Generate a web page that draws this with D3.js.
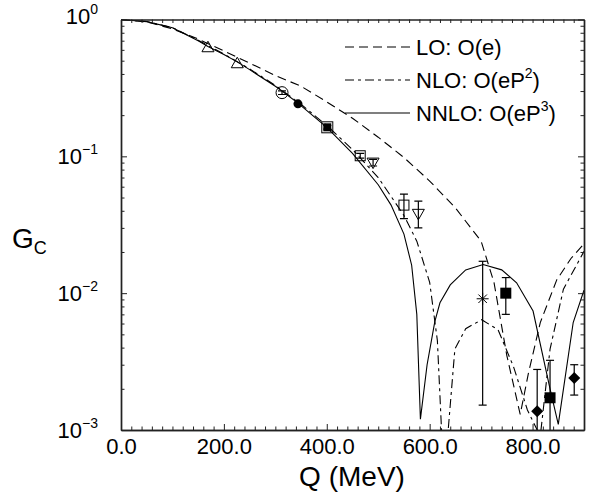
<!DOCTYPE html>
<html><head><meta charset="utf-8">
<script src="https://cdn.jsdelivr.net/npm/d3@7"></script>
<style>
body{margin:0;background:#fff}
svg{display:block}
text{font-family:"Liberation Sans",Arial,Helvetica,sans-serif;fill:#000}
</style>
</head><body>
<svg id="chart" width="596" height="497"></svg>
<script>
// ---- data ----
const loQ = [0,50,100,150,200,250,300,350,400,450,500,550,600,650,700,725,750,776,792,815,847,875,900];
const loG = [1,0.96,0.855,0.72,0.59,0.48,0.39,0.325,0.25,0.19,0.138,0.098,0.066,0.042,0.024,0.012,0.0035,0.0013,0.0026,0.0061,0.0125,0.018,0.023];

const nloQ = [0,50,100,150,200,250,300,350,400,450,500,550,575,600,615,625,636,649,670,701,733,763,790,815,834,860,900];
const nloG = [1,0.966,0.872,0.705,0.56,0.435,0.33,0.24,0.168,0.112,0.07,0.037,0.024,0.012,0.0045,0.0007,0.001,0.0039,0.0055,0.0064,0.0054,0.0029,0.0014,0.0009,0.0039,0.0107,0.0202];

const nnloQ = [0,50,100,150,169,200,226,250,300,313,344,400,450,500,525,550,565,575,582,595,610,620,640,670,704,740,769,801,834,850,879,900];
const nnloG = [1,0.965,0.87,0.70,0.635,0.555,0.49,0.43,0.325,0.30,0.245,0.163,0.105,0.062,0.044,0.027,0.016,0.007,0.0012,0.003,0.0062,0.0085,0.0115,0.0148,0.0162,0.0148,0.0119,0.0074,0.002,0.0011,0.0061,0.0105];

const ptQ   = [169,226,313,344,401,465,490,550,578,703,748,809,834,881];
const ptG   = [0.627,0.479,0.292,0.242,0.163,0.101,0.090,0.044,0.038,0.0091,0.0100,0.00137,0.00172,0.0024];
const ptLo  = [null,null,0.283,null,0.158,0.097,0.085,0.035,0.030,0.00152,0.0070,0.0005,0.0005,0.0018];
const ptHi  = [null,null,0.301,null,0.168,0.105,0.095,0.053,0.047,0.0171,0.0130,0.00277,0.00323,0.0030];
const ptSym = ["tri","tri","ocirc","fcirc","fsqbox","osq","dtri","osq","dtri","star","fsq","fdia","fsq","fdia"];

const xTicks = [0,200,400,600,800];
const yTicks = [1,0.1,0.01,0.001];
const yExp = ["0","\u22121","\u22122","\u22123"];
const legendLabels = [["LO: O(e)",""],["NLO: O(eP","2",")"],["NNLO: O(eP","3",")"]];

// ---- layout ----
const svg = d3.select("#chart");
const L = 121, R = 584, T = 19.5, B = 430;
const x = d3.scaleLinear().domain([0,900]).range([L,R]);
const y = d3.scaleLog().domain([1e-3,1]).range([B,T]);

svg.append("clipPath").attr("id","clip").append("rect")
  .attr("x",L).attr("y",T).attr("width",R-L).attr("height",B-T);

// curves
const mk = (Q,G) => Q.map((q,i)=>[q,G[i]]);
const line = d3.line().x(d=>x(d[0])).y(d=>y(d[1])).curve(d3.curveLinear);
const curves = [
  {d:mk(loQ,loG), dash:"9,5"},
  {d:mk(nloQ,nloG), dash:"9,4,3,4"},
  {d:mk(nnloQ,nnloG), dash:null}
];
const cg = svg.append("g").attr("clip-path","url(#clip)");
curves.forEach(c=>{
  cg.append("path").attr("d",line(c.d)).attr("fill","none")
    .attr("stroke","#000").attr("stroke-width",1.1)
    .attr("stroke-dasharray",c.dash);
});

// error bars
const eg = svg.append("g").attr("clip-path","url(#clip)");
ptQ.forEach((q,i)=>{
  if(ptLo[i]==null) return;
  const cx = x(q), y1 = y(ptLo[i]), y2 = y(ptHi[i]);
  eg.append("line").attr("x1",cx).attr("x2",cx).attr("y1",y1).attr("y2",y2).attr("stroke","#000").attr("stroke-width",1.2);
  [y1,y2].forEach(yy=>eg.append("line").attr("x1",cx-4).attr("x2",cx+4).attr("y1",yy).attr("y2",yy).attr("stroke","#000").attr("stroke-width",1.2));
});

// markers
const mg = svg.append("g");
ptQ.forEach((q,i)=>{
  const cx = x(q), cy = y(ptG[i]), s = ptSym[i];
  const g = mg.append("g").attr("transform",`translate(${cx},${cy})`);
  if(s==="tri") g.append("path").attr("d","M0,-6L6,4.5L-6,4.5Z").attr("fill","none").attr("stroke","#000").attr("stroke-width",1);
  if(s==="dtri") g.append("path").attr("d","M0,6L6,-4.5L-6,-4.5Z").attr("fill","none").attr("stroke","#000").attr("stroke-width",1);
  if(s==="ocirc") g.append("circle").attr("r",6).attr("fill","none").attr("stroke","#000").attr("stroke-width",1);
  if(s==="fcirc") g.append("circle").attr("r",4.5).attr("fill","#000");
  if(s==="fsqbox"){ g.append("rect").attr("x",-5.5).attr("y",-5.5).attr("width",11).attr("height",11).attr("fill","none").attr("stroke","#000").attr("stroke-width",1);
                    g.append("rect").attr("x",-4).attr("y",-4).attr("width",8).attr("height",8).attr("fill","#000"); }
  if(s==="osq") g.append("rect").attr("x",-5).attr("y",-5).attr("width",10).attr("height",10).attr("fill","none").attr("stroke","#000").attr("stroke-width",1);
  if(s==="fsq") g.append("rect").attr("x",-5.5).attr("y",-5.5).attr("width",11).attr("height",11).attr("fill","#000");
  if(s==="fdia") g.append("path").attr("d","M0,-6L6,0L0,6L-6,0Z").attr("fill","#000");
  if(s==="star"){ [0,45,90,135].forEach(a=>{const r=6,t=a*Math.PI/180;
      g.append("line").attr("x1",-r*Math.cos(t)).attr("y1",-r*Math.sin(t)).attr("x2",r*Math.cos(t)).attr("y2",r*Math.sin(t)).attr("stroke","#000").attr("stroke-width",1);}); }
});

// axes
const minorX = d3.range(0,901,20).filter(v=>v%200!==0);
const minorY = [];
[1e-3,1e-2,1e-1].forEach(d=>{for(let k=2;k<=9;k++) minorY.push(d*k);});
const axStyle = g => { g.select(".domain").attr("stroke","#222").attr("stroke-width",1.4); g.selectAll(".tick line").attr("stroke","#222").attr("stroke-width",1); };

svg.append("g").attr("transform",`translate(0,${B})`)
  .call(d3.axisBottom(x).tickValues(minorX).tickSize(-3.5).tickFormat("").tickSizeOuter(0)).call(axStyle);
svg.append("g").attr("transform",`translate(0,${B})`)
  .call(d3.axisBottom(x).tickValues(xTicks).tickSize(-6).tickPadding(8).tickSizeOuter(0).tickFormat(d3.format(".1f")))
  .call(axStyle).call(g=>g.selectAll("text").attr("font-size",22).attr("font-family","Liberation Sans, Arial, sans-serif"));
svg.append("g").attr("transform",`translate(0,${T})`)
  .call(d3.axisTop(x).tickValues(minorX.concat(xTicks)).tickSize(-3.5).tickFormat("").tickSizeOuter(0)).call(axStyle);

svg.append("g").attr("transform",`translate(${L},0)`)
  .call(d3.axisLeft(y).tickValues(minorY).tickSize(-3.5).tickFormat("").tickSizeOuter(0)).call(axStyle);
svg.append("g").attr("transform",`translate(${L},0)`)
  .call(d3.axisLeft(y).tickValues(yTicks).tickSize(-6).tickFormat("").tickSizeOuter(0)).call(axStyle);
svg.append("g").attr("transform",`translate(${R},0)`)
  .call(d3.axisRight(y).tickValues(minorY).tickSize(-3.5).tickFormat("").tickSizeOuter(0)).call(axStyle);
svg.append("g").attr("transform",`translate(${R},0)`)
  .call(d3.axisRight(y).tickValues(yTicks).tickSize(-6).tickFormat("").tickSizeOuter(0)).call(axStyle);

// y tick labels with superscripts
yTicks.forEach((v,i)=>{
  const t = svg.append("text").attr("x",98).attr("y",y(v)+8-(i===0?4:0)).attr("text-anchor","end").attr("font-size",22);
  t.append("tspan").text("10");
  t.append("tspan").attr("font-size",14).attr("dy",-10).text(yExp[i]);
});

// axis titles
svg.append("text").attr("x",352).attr("y",486).attr("text-anchor","middle").attr("font-size",28).text("Q (MeV)");
const gt = svg.append("text").attr("x",12).attr("y",248).attr("font-size",28);
gt.append("tspan").text("G");
gt.append("tspan").attr("font-size",18).attr("dy",6).text("C");

// legend
const dashes = ["9,5","9,4,3,4",null];
legendLabels.forEach((lab,i)=>{
  const ly = 47 + i*33;
  svg.append("line").attr("x1",345).attr("x2",410).attr("y1",ly).attr("y2",ly)
    .attr("stroke","#000").attr("stroke-width",1.1).attr("stroke-dasharray",dashes[i]);
  const t = svg.append("text").attr("x",416).attr("y",ly+8).attr("font-size",22);
  t.append("tspan").text(lab[0]);
  if(lab[1]){ t.append("tspan").attr("font-size",14).attr("dy",-10).text(lab[1]);
              t.append("tspan").attr("dy",10).text(lab[2]); }
});
</script>
</body></html>
